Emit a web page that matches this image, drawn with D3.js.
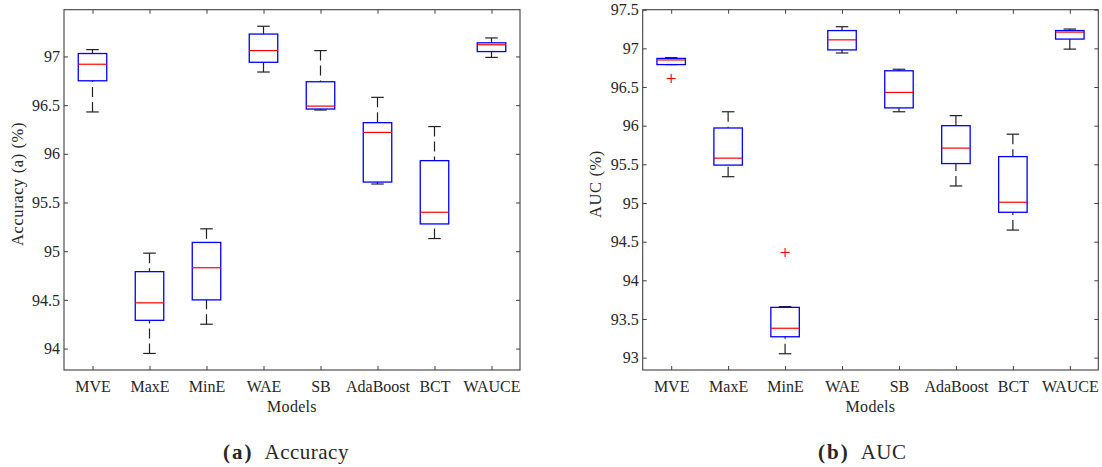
<!DOCTYPE html>
<html>
<head>
<meta charset="utf-8">
<script src="https://cdn.jsdelivr.net/npm/d3@7"></script>
<style>
  body { margin: 0; background: #fff; }
  svg { display: block; }
  text { font-family: "Liberation Serif", "Times New Roman", serif; fill: #262626; }
</style>
</head>
<body>
<svg id="chart"></svg>
<script>
// models on the x axis
const models = ["MVE", "MaxE", "MinE", "WAE", "SB", "AdaBoost", "BCT", "WAUCE"];

// box stats per model: [lower whisker, Q1, median, Q3, upper whisker]
const accStats = [
  [96.43, 96.75, 96.92, 97.03, 97.07],
  [93.95, 94.29, 94.47, 94.79, 94.98],
  [94.25, 94.50, 94.83, 95.09, 95.23],
  [96.84, 96.94, 97.06, 97.23, 97.31],
  [96.45, 96.46, 96.49, 96.74, 97.06],
  [95.69, 95.71, 96.22, 96.32, 96.58],
  [95.13, 95.28, 95.40, 95.93, 96.28],
  [96.99, 97.05, 97.12, 97.14, 97.19]
];
const accOutliers = [];            // [model index, value]
const accTicks = [94, 94.5, 95, 95.5, 96, 96.5, 97];
const accDomain = [93.78, 97.48];

const aucStats = [
  [96.79, 96.79, 96.85, 96.87, 96.88],
  [95.34, 95.49, 95.58, 95.97, 96.18],
  [93.05, 93.27, 93.38, 93.65, 93.66],
  [96.94, 96.98, 97.11, 97.23, 97.28],
  [96.18, 96.23, 96.43, 96.71, 96.73],
  [95.22, 95.51, 95.71, 96.00, 96.13],
  [94.65, 94.88, 95.01, 95.60, 95.89],
  [96.99, 97.12, 97.21, 97.23, 97.25]
];
const aucOutliers = [[0, 96.61], [2, 94.36]];
const aucTicks = [93, 93.5, 94, 94.5, 95, 95.5, 96, 96.5, 97, 97.5];
const aucDomain = [92.84, 97.5];

const W = 1102, H = 467;
const svg = d3.select("#chart").attr("width", W).attr("height", H);
svg.append("rect").attr("width", W).attr("height", H).attr("fill", "#fff");

function panel(cfg) {
  const {left, right, top, bottom} = cfg;
  const x = d3.scaleLinear().domain([0.5, models.length + 0.5]).range([left, right]);
  const y = d3.scaleLinear().domain(cfg.domain).range([bottom, top]);
  const g = svg.append("g");
  const idx = d3.range(1, models.length + 1);

  // axes, ticks pointing inward (MATLAB style, box on)
  const ax = (sel) => {
    sel.selectAll(".domain").remove();
    sel.selectAll("line").attr("stroke", "#404040").attr("stroke-width", 1);
    sel.selectAll("text").attr("font-size", "16px").attr("fill", "#262626")
      .style("font-family", '"Liberation Serif", serif');
  };
  g.append("g").attr("transform", `translate(0,${bottom})`)
    .call(d3.axisBottom(x).tickValues(idx).tickFormat(i => models[i - 1]).tickSize(-4).tickPadding(10.5))
    .call(ax);
  g.append("g").attr("transform", `translate(0,${top})`)
    .call(d3.axisTop(x).tickValues(idx).tickFormat("").tickSize(-4))
    .call(ax);
  g.append("g").attr("transform", `translate(${left},0)`)
    .call(d3.axisLeft(y).tickValues(cfg.ticks).tickFormat(d => String(d)).tickSize(-4).tickPadding(4))
    .call(ax);
  g.append("g").attr("transform", `translate(${right},0)`)
    .call(d3.axisRight(y).tickValues(cfg.ticks).tickFormat("").tickSize(-4))
    .call(ax);

  g.append("rect")
    .attr("x", left).attr("y", top)
    .attr("width", right - left).attr("height", bottom - top)
    .attr("fill", "none").attr("stroke", "#404040").attr("stroke-width", 1.1);

  const halfBox = 0.25, halfCap = 0.11;
  const boxes = g.append("g").selectAll("g").data(cfg.stats).join("g");

  // whiskers (dashed, from cap toward box)
  boxes.append("line")
    .attr("x1", (d, i) => x(i + 1)).attr("x2", (d, i) => x(i + 1))
    .attr("y1", d => y(d[4])).attr("y2", d => y(d[3]))
    .attr("stroke", "#222").attr("stroke-width", 1.2).attr("stroke-dasharray", "10,5");
  boxes.append("line")
    .attr("x1", (d, i) => x(i + 1)).attr("x2", (d, i) => x(i + 1))
    .attr("y1", d => y(d[0])).attr("y2", d => y(d[1]))
    .attr("stroke", "#222").attr("stroke-width", 1.2).attr("stroke-dasharray", "10,5");
  // caps
  [0, 4].forEach(k => {
    boxes.append("line")
      .attr("x1", (d, i) => x(i + 1 - halfCap)).attr("x2", (d, i) => x(i + 1 + halfCap))
      .attr("y1", d => y(d[k])).attr("y2", d => y(d[k]))
      .attr("stroke", "#222").attr("stroke-width", 1.2);
  });
  // boxes
  boxes.append("rect")
    .attr("x", (d, i) => x(i + 1 - halfBox))
    .attr("width", (d, i) => x(i + 1 + halfBox) - x(i + 1 - halfBox))
    .attr("y", d => y(d[3]))
    .attr("height", d => Math.max(0.5, y(d[1]) - y(d[3])))
    .attr("fill", "none").attr("stroke", "#0000ff").attr("stroke-width", 1.3);
  // medians
  boxes.append("line")
    .attr("x1", (d, i) => x(i + 1 - halfBox)).attr("x2", (d, i) => x(i + 1 + halfBox))
    .attr("y1", d => y(d[2])).attr("y2", d => y(d[2]))
    .attr("stroke", "#ff0000").attr("stroke-width", 1.2);

  // outliers as red plus marks
  const out = g.append("g").selectAll("g").data(cfg.outliers).join("g")
    .attr("transform", d => `translate(${x(d[0] + 1)},${y(d[1])})`);
  out.append("line").attr("x1", -4.5).attr("x2", 4.5).attr("stroke", "#ff0000").attr("stroke-width", 1.1);
  out.append("line").attr("y1", -4.5).attr("y2", 4.5).attr("stroke", "#ff0000").attr("stroke-width", 1.1);

  // axis titles
  const cx = (left + right) / 2;
  g.append("text").attr("x", cx).attr("y", 411.5).attr("text-anchor", "middle")
    .attr("font-size", "16px").attr("letter-spacing", "0.3px").text("Models");
  g.append("text")
    .attr("transform", `translate(${cfg.ylabX},184) rotate(-90)`)
    .attr("text-anchor", "middle").attr("font-size", "16.5px").attr("letter-spacing", "0.6px")
    .text(cfg.ylabel);

  // caption
  const cap = g.append("text").attr("x", cfg.capX).attr("y", 459)
    .attr("font-size", "21px").attr("fill", "#000");
  cap.append("tspan").attr("font-weight", "bold").attr("letter-spacing", "2px").text(cfg.capTag);
  cap.append("tspan").attr("dx", 11).attr("letter-spacing", "0.5px").text(cfg.capText);
}

panel({
  left: 64, right: 520, top: 9.7, bottom: 370,
  domain: accDomain, ticks: accTicks, stats: accStats, outliers: accOutliers,
  ylabel: "Accuracy (a) (%)", ylabX: 22.5,
  capX: 223, capTag: "(a)", capText: "Accuracy"
});
panel({
  left: 642.7, right: 1098.3, top: 9.7, bottom: 370,
  domain: aucDomain, ticks: aucTicks, stats: aucStats, outliers: aucOutliers,
  ylabel: "AUC (%)", ylabX: 600.5,
  capX: 818, capTag: "(b)", capText: "AUC"
});
</script>
</body>
</html>
